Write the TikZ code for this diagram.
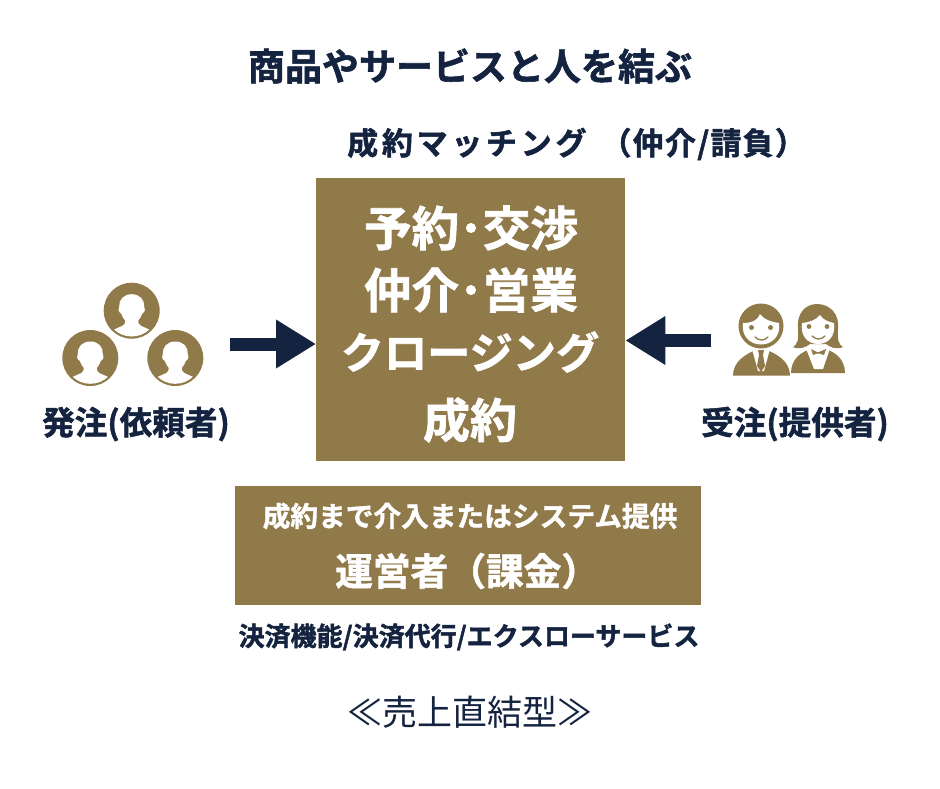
\documentclass[tikz,border=0pt]{standalone}
\usepackage{fontspec}
\setmainfont{Noto Sans CJK JP}[BoldFont={Noto Sans CJK JP Bold},BoldFeatures={FakeBold=1.5}]
\usetikzlibrary{arrows.meta}
\definecolor{gold}{HTML}{917A4A}
\definecolor{navy}{HTML}{14233F}
\newcommand{\fsz}[1]{\fontsize{#1}{#1}\selectfont}
\tikzset{
  x=1pt,y=-1pt,
  lab/.style={inner sep=0pt,text=navy,font=\bfseries},
  wlab/.style={inner sep=0pt,text=white,font=\bfseries},
  block/.style={line width=13pt,draw=navy,-{Triangle[length=40pt,width=46pt]}},
  goldbox/.style={fill=gold,draw=none,inner sep=0pt,anchor=north west},
  circleperson/.pic={
    \fill[gold] (0,0) circle[radius=28];
    \begin{scope}
      \clip (0,0) circle[radius=25.8];
      \fill[white] (0,-16.5) .. controls (8,-16.5) and (13,-11) .. (12.5,-4)
        .. controls (14,-2) and (13.5,1) .. (10.5,3)
        .. controls (9.5,6) and (8,8) .. (6.5,10)
        .. controls (6.5,12) and (7,14) .. (9,15)
        -- (18,19) -- (18,30) -- (-18,30) -- (-18,19) -- (-9,15)
        .. controls (-7,14) and (-6.5,12) .. (-6.5,10)
        .. controls (-8,8) and (-9.5,6) .. (-10.5,3)
        .. controls (-13.5,1) and (-14,-2) .. (-12.5,-4)
        .. controls (-13,-11) and (-8,-16.5) .. (0,-16.5) -- cycle;
    \end{scope}
  }
}
\begin{document}
\begin{tikzpicture}
\useasboundingbox (0,0) rectangle (940,788);
\fill[white] (0,0) rectangle (940,788);

\node[lab,font=\bfseries\fsz{37}] (title) at (470,66) {商品やサービスと人を結ぶ};
\node[lab,font=\bfseries\fsz{31},anchor=west] (matching) at (347,144) {{\addfontfeature{LetterSpace=12}成約マッチング}\hspace{14pt}{\addfontfeature{LetterSpace=4}（仲介/請負）}};

\node[goldbox,minimum width=309pt,minimum height=283pt] (main) at (316,178) {};
\node[wlab,font=\bfseries\fsz{47.5}] (m1) at (471,228) {予約･交渉};
\node[wlab,font=\bfseries\fsz{47.5}] (m2) at (471,290) {仲介･営業};
\node[wlab,font=\bfseries\fsz{43.2}] (m3) at (470,352) {クロージング};
\node[wlab,font=\bfseries\fsz{47}] (m4) at (470,420) {成約};

\node[goldbox,minimum width=466pt,minimum height=119pt] (oper) at (235,486) {};
\node[wlab,font=\bfseries\fsz{27.7}] (o1) at (470,516) {成約まで介入またはシステム提供};
\node[wlab,font=\bfseries\fsz{37.7},anchor=west] (o2) at (335,571) {運営者（課金）};

\node[lab,font=\bfseries\fsz{26}] (pay) at (469,637) {決済機能/決済代行/エクスローサービス};
\node[inner sep=0pt,text=navy,font=\fsz{35}] (type) at (470,712) {≪売上直結型≫};

\node[lab,font=\bfseries\fsz{32.6}] (client) at (136,424) {発注(依頼者)};
\node[lab,font=\bfseries\fsz{32.6}] (vendor) at (795,424) {受注(提供者)};

\pic at (131.7,310.7) {circleperson};
\pic at (90.3,358) {circleperson};
\pic at (175.3,358) {circleperson};

% man
\fill[gold] (733,375.5) .. controls (733,362) and (745,354) .. (758,349)
  -- (764,349) .. controls (778,354) and (790,362) .. (790,375.5) -- cycle;
\fill[white] (752,349) -- (770,349) -- (764,371) -- (758,371) -- cycle;
\fill[gold] (758,350) -- (764,350) -- (763,355) -- (765,366) -- (761,372) -- (757,366) -- (759,355) -- cycle;
\fill[gold] (761,326) circle[radius=22.5];
\fill[white] (743,323) .. controls (752,323) and (758,320) .. (760,314)
  .. controls (764,320) and (772,322) .. (779,323)
  .. controls (781,336) and (772,344.5) .. (761,344.5)
  .. controls (750,344.5) and (741,336) .. (743,323) -- cycle;
\fill[gold] (751.5,327.5) circle[radius=2.5] (770.5,327.5) circle[radius=2.5];
\draw[gold,line width=1.3pt,line cap=round] (755,337) .. controls (759,341) and (764,341) .. (768,337);

% woman
\fill[gold] (791,373) .. controls (791,360) and (800,352) .. (811,349)
  -- (825,349) .. controls (836,352) and (845,360) .. (845,373) -- cycle;
\fill[white] (806,348.5) -- (830,348.5) -- (823,369) -- (814,369) -- cycle;
\fill[gold] (811,349) -- (817,352) -- (819,352) -- (826,349) -- (824,355) -- (819,353.5) -- (817,353.5) -- (813,355) -- cycle;
\fill[gold] (793,347) .. controls (797,345) and (799,340) .. (798,330)
  .. controls (796,314) and (805,304) .. (817,304)
  .. controls (830,304) and (840,314) .. (838,330)
  .. controls (837,340) and (839,345) .. (843,347)
  .. controls (836,350) and (830,347) .. (826,344)
  -- (810,344) .. controls (806,347) and (800,350) .. (793,347) -- cycle;
\fill[white] (802,323) .. controls (810,322) and (816,320) .. (820,315)
  .. controls (823,320) and (829,322) .. (834,323)
  .. controls (836,336) and (828,344) .. (818,344)
  .. controls (808,344) and (800,336) .. (802,323) -- cycle;
\fill[gold] (809,326.5) circle[radius=2.4] (827,326.5) circle[radius=2.4];
\draw[gold,line width=1.3pt,line cap=round] (812,336) .. controls (816,340) and (821,340) .. (825,336);

% arrows
\coordinate (lstart) at (230,344);
\coordinate (rstart) at (711,340.5);
\draw[block] (lstart) -- (lstart -| main.west);
\draw[block] (rstart) -- (rstart -| main.east);
\end{tikzpicture}
\end{document}
